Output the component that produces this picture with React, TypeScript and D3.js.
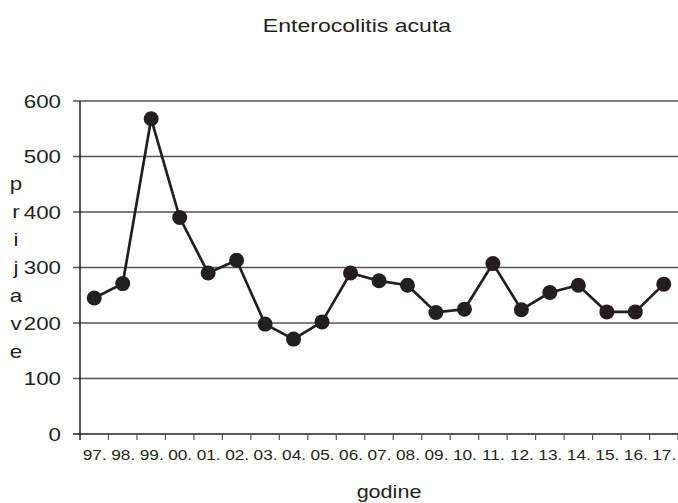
import React, { useEffect, useRef } from "react";
import * as d3 from "d3";

const categories = ["97.", "98.", "99.", "00.", "01.", "02.", "03.", "04.", "05.", "06.", "07.", "08.", "09.", "10.", "11.", "12.", "13.", "14.", "15.", "16.", "17."];
const values = [245, 271, 568, 390, 290, 313, 198, 171, 202, 290, 276, 268, 219, 225, 307, 224, 255, 268, 220, 220, 270];
const yTicks = [0, 100, 200, 300, 400, 500, 600];
const title = "Enterocolitis acuta";
const xTitle = "godine";
const yTitleLetters = ["p", "r", "i", "j", "a", "v", "e"];

const W = 678;
const H = 503;
const FONT = "'Liberation Sans', Arial, Helvetica, sans-serif";
const INK = "#231f20";

export default function App() {
  const ref = useRef<SVGSVGElement>(null);

  useEffect(() => {
    const svg = d3.select(ref.current);
    svg.selectAll("*").remove();

    const left = 80, right = 678, top = 101, bottom = 434;
    const x = d3.scaleBand<string>().domain(categories).range([left, right]);
    const y = d3.scaleLinear().domain([0, 600]).range([bottom, top]);

    // gridlines
    svg.append("g")
      .selectAll("line")
      .data(yTicks.filter((t) => t > 0))
      .join("line")
      .attr("x1", left - 7)
      .attr("x2", right)
      .attr("y1", (d) => y(d))
      .attr("y2", (d) => y(d))
      .attr("stroke", "#555")
      .attr("stroke-width", 1.3);

    // x axis line
    svg.append("line")
      .attr("x1", left - 7).attr("x2", right)
      .attr("y1", y(0)).attr("y2", y(0))
      .attr("stroke", INK).attr("stroke-width", 1.5);

    // y axis line
    svg.append("line")
      .attr("x1", left).attr("x2", left)
      .attr("y1", top).attr("y2", bottom + 6)
      .attr("stroke", INK).attr("stroke-width", 1.5);

    // x ticks at band boundaries
    const bounds = categories.map((c) => x(c)! + x.bandwidth());
    svg.append("g")
      .selectAll("line")
      .data(bounds)
      .join("line")
      .attr("x1", (d) => d).attr("x2", (d) => d)
      .attr("y1", bottom).attr("y2", bottom + 6)
      .attr("stroke", "#555").attr("stroke-width", 1.2);

    // y tick labels
    svg.append("g")
      .selectAll("g")
      .data(yTicks)
      .join("g")
      .attr("transform", (d) => `translate(61,${y(d) + 6.6}) scale(1.2,1)`)
      .append("text")
      .attr("text-anchor", "end")
      .attr("font-family", FONT)
      .attr("font-size", 18.6)
      .attr("fill", INK)
      .text((d) => String(d));

    // x tick labels
    svg.append("g")
      .selectAll("g")
      .data(categories)
      .join("g")
      .attr("transform", (d) => `translate(${x(d)! + x.bandwidth() / 2 + 0.5},460) scale(1.12,1)`)
      .append("text")
      .attr("text-anchor", "middle")
      .attr("font-family", FONT)
      .attr("font-size", 15.4)
      .attr("fill", INK)
      .text((d) => d);

    // line
    const line = d3.line<number>()
      .x((_, i) => x(categories[i])! + x.bandwidth() / 2)
      .y((d) => y(d));
    svg.append("path")
      .datum(values)
      .attr("d", line)
      .attr("fill", "none")
      .attr("stroke", INK)
      .attr("stroke-width", 2.7)
      .attr("stroke-linejoin", "miter");

    svg.append("g")
      .selectAll("circle")
      .data(values)
      .join("circle")
      .attr("cx", (_, i) => x(categories[i])! + x.bandwidth() / 2)
      .attr("cy", (d) => y(d))
      .attr("r", 7.5)
      .attr("fill", INK);

    // title
    svg.append("g")
      .attr("transform", `translate(357,31.7) scale(1.24,1)`)
      .append("text")
      .attr("text-anchor", "middle")
      .attr("font-family", FONT)
      .attr("font-size", 18.6)
      .attr("fill", INK)
      .text(title);

    // x title
    svg.append("g")
      .attr("transform", `translate(389,498.3) scale(1.16,1)`)
      .append("text")
      .attr("text-anchor", "middle")
      .attr("font-family", FONT)
      .attr("font-size", 18.6)
      .attr("fill", INK)
      .text(xTitle);

    // y title stacked letters
    svg.append("g")
      .selectAll("g")
      .data(yTitleLetters)
      .join("g")
      .attr("transform", (_, i) => `translate(16,${190 + i * 28}) scale(1.2,1)`)
      .append("text")
      .attr("text-anchor", "middle")
      .attr("font-family", FONT)
      .attr("font-size", 18.6)
      .attr("fill", INK)
      .text((d) => d);
  }, []);

  return (
    <div style={{ position: "absolute", left: 0, top: 0 }}>
      <svg ref={ref} width={W} height={H} style={{ display: "block", background: "#fff" }} />
    </div>
  );
}
